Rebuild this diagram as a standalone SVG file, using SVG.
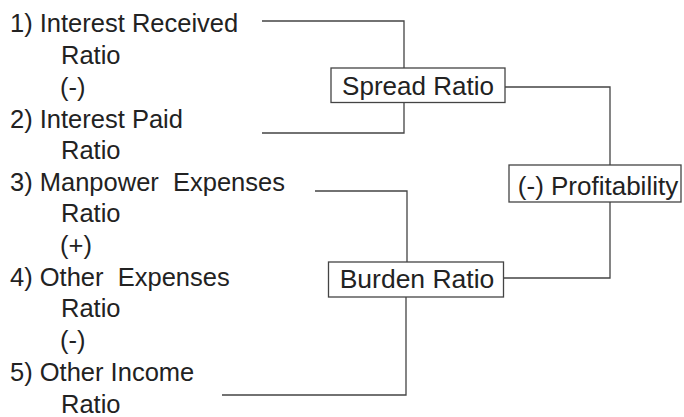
<svg xmlns="http://www.w3.org/2000/svg" width="684" height="417" viewBox="0 0 684 417">
<style>
.t{font-family:"Liberation Sans",Arial,Helvetica,sans-serif;font-size:25.5px;fill:#222;white-space:pre}
.b{font-family:"Liberation Sans",Arial,Helvetica,sans-serif;font-size:26px;fill:#222}
.box{fill:#fff;stroke:#444;stroke-width:1.3}
.c{fill:none;stroke:#444;stroke-width:1.3}
</style>
<rect width="684" height="417" fill="#fff"/>
<g id="inputs">
<text class="t" x="10" y="32">1) Interest Received</text>
<text class="t" x="61" y="64">Ratio</text>
<text class="t" x="60" y="96">(-)</text>
<text class="t" x="10" y="128">2) Interest Paid</text>
<text class="t" x="61" y="159">Ratio</text>
<text class="t" x="10" y="191">3) Manpower  Expenses</text>
<text class="t" x="61" y="222">Ratio</text>
<text class="t" x="60" y="254">(+)</text>
<text class="t" x="10" y="286">4) Other  Expenses</text>
<text class="t" x="61" y="317">Ratio</text>
<text class="t" x="60" y="349">(-)</text>
<text class="t" x="10" y="381">5) Other Income</text>
<text class="t" x="61" y="413">Ratio</text>
</g>
<g id="connectors">
<polyline class="c" points="262,21 404,21 404,68"/>
<polyline class="c" points="262,133 404,133 404,102"/>
<polyline class="c" points="505,87 610,87 610,165"/>
<polyline class="c" points="315,191 407,191 407,262"/>
<polyline class="c" points="504,278 610,278 610,202"/>
<polyline class="c" points="222,395 406,395 406,297"/>
</g>
<g id="spread">
<rect class="box" x="331" y="68" width="174" height="34.5"/>
<text class="b" x="418" y="95" text-anchor="middle">Spread Ratio</text>
</g>
<g id="profit">
<rect class="box" x="509" y="165" width="172" height="37"/>
<text class="b" x="598" y="195" text-anchor="middle">(-) Profitability</text>
</g>
<g id="burden">
<rect class="box" x="328.5" y="262" width="175" height="35"/>
<text class="b" x="417" y="288" text-anchor="middle" style="font-size:26.5px">Burden Ratio</text>
</g>
</svg>
